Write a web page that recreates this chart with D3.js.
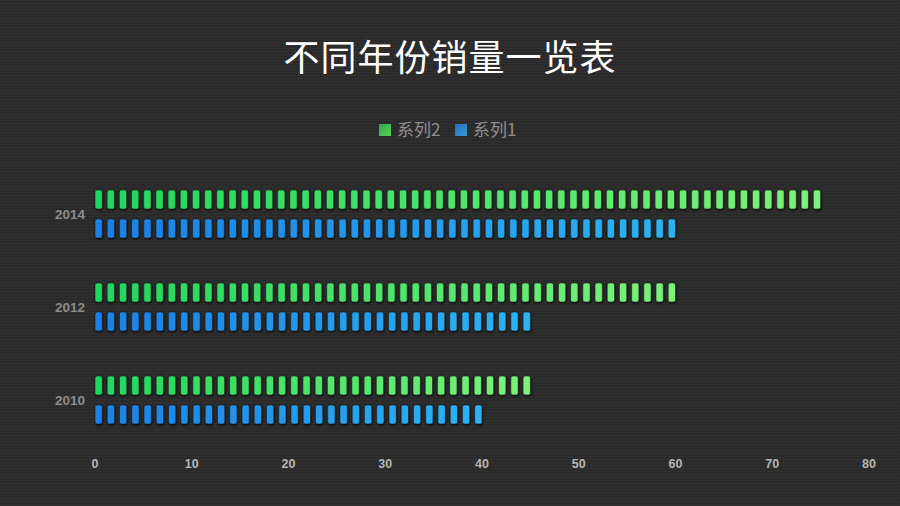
<!DOCTYPE html>
<html><head><meta charset="utf-8">
<script src="https://cdn.jsdelivr.net/npm/d3@7"></script>
<style>html,body{margin:0;padding:0;background:#2b2b2b;}svg{display:block;}</style>
</head><body>
<svg id="chart" width="900" height="506"></svg>
<script>
const title = "不同年份销量一览表";
const categories = ["2010", "2012", "2014"];
const seriesNames = ["系列2", "系列1"];
const series2 = [45, 60, 75];
const series1 = [40, 45, 60];
const xTicks = [0, 10, 20, 30, 40, 50, 60, 70, 80];

const W = 900, H = 506;
const svg = d3.select("#chart");
const defs = svg.append("defs");

// textured background
const pat = defs.append("pattern").attr("id","bgpat").attr("width",4).attr("height",3).attr("patternUnits","userSpaceOnUse");
pat.append("rect").attr("width",4).attr("height",3).attr("fill","#2b2b2b");
pat.append("rect").attr("y",0).attr("width",4).attr("height",1).attr("fill","#303030");
pat.append("rect").attr("x",1).attr("y",2).attr("width",1).attr("height",1).attr("fill","#262626");
svg.append("rect").attr("width",W).attr("height",H).attr("fill","url(#bgpat)");

const filt = defs.append("filter").attr("id","sh").attr("x","-50%").attr("y","-50%").attr("width","200%").attr("height","200%");
filt.append("feDropShadow").attr("dx",0.5).attr("dy",1).attr("stdDeviation",1).attr("flood-color","#000").attr("flood-opacity",0.8);

const colors = {
  "系列2": ["#1fd85c", "#7cf27a"],
  "系列1": ["#1a80e6", "#2db3f2"]
};

const x = d3.scaleLinear().domain([0, 80]).range([95, 869]);
const y = d3.scaleBand().domain(categories.slice().reverse()).range([167.5, 446.5]);
const inner = d3.scaleBand().domain(seriesNames).range([17.5, 75.5]);

// title
svg.append("text").attr("x", 450).attr("y", 71).attr("text-anchor","middle")
  .attr("fill","#ffffff").attr("font-size", 36)
  .attr("font-family","'Noto Sans CJK SC','Microsoft YaHei',sans-serif")
  .attr("letter-spacing", 1).text(title);

// legend
const legendX = [379, 455];
seriesNames.forEach((s, i) => {
  const g = svg.append("g").attr("transform", `translate(${legendX[i]},124)`);
  const lg = defs.append("linearGradient").attr("id","lg"+i).attr("x1",0).attr("x2",1).attr("y1",0).attr("y2",1);
  lg.append("stop").attr("offset",0).attr("stop-color", i===0 ? "#2ea84a" : "#1e6fb8");
  lg.append("stop").attr("offset",1).attr("stop-color", i===0 ? "#5fd060" : "#3a9ad8");
  g.append("rect").attr("width",12).attr("height",12).attr("fill","url(#lg"+i+")");
  g.append("text").attr("x",18).attr("y",12).attr("fill","#8f8f8f").attr("font-size",17)
    .attr("font-family","'Noto Sans CJK SC',sans-serif").text(s);
});

// y labels
svg.append("g").selectAll("text").data(categories).join("text")
  .attr("x", 85).attr("y", d => y(d) + y.bandwidth()/2 + 5)
  .attr("text-anchor","end").attr("fill","#8c8c8c").attr("font-size",13.5).attr("font-weight","bold")
  .attr("font-family","'Liberation Sans',Arial,sans-serif").text(d => d);

// x labels
svg.append("g").selectAll("text").data(xTicks).join("text")
  .attr("x", d => x(d)).attr("y", 468).attr("text-anchor","middle")
  .attr("fill","#b5b5b5").attr("font-size",12.5).attr("font-weight","bold")
  .attr("font-family","'Liberation Sans',Arial,sans-serif").text(d => d);

// pictorial bars
const pillW = 7.3, gap = 4.9, pillH = 19;
const data = [];
categories.forEach((c, ci) => {
  data.push({cat: c, s: "系列2", v: series2[ci]});
  data.push({cat: c, s: "系列1", v: series1[ci]});
});
const barsG = svg.append("g").attr("filter","url(#sh)");
data.forEach(d => {
  const x0 = x(0), L = x(d.v) - x(0);
  const n = Math.round((L + gap) / (pillW + gap));
  const step = (L - pillW) / (n - 1);
  const cy = y(d.cat) + inner(d.s) + inner.bandwidth()/2;
  const interp = d3.interpolateRgb(colors[d.s][0], colors[d.s][1]);
  const pills = d3.range(n);
  barsG.append("g").selectAll("rect").data(pills).join("rect")
    .attr("x", i => x0 + i*step).attr("y", cy - pillH/2)
    .attr("width", pillW).attr("height", pillH).attr("rx", 2).attr("ry", 2)
    .attr("fill", i => interp(n > 1 ? i/(n-1) : 0))
    .attr("stroke","#1b1b1b").attr("stroke-width",0.6);
});
</script>
</body></html>
